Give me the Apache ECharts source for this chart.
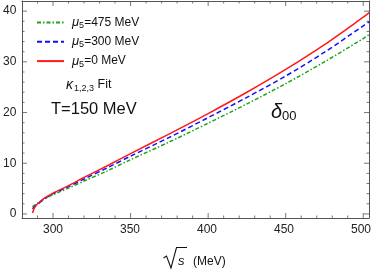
<!DOCTYPE html>
<html>
<head>
<meta charset="utf-8">
<script src="https://cdn.jsdelivr.net/npm/echarts@6/dist/echarts.min.js"></script>
<style>html,body{margin:0;padding:0;background:#fff}#c{width:374px;height:276px}</style>
</head>
<body>
<div id="c"></div>
<script>
// ---- data ----
const sqrtS = [286.8, 288, 290, 293, 296, 300, 310, 320, 335, 350, 375, 400, 425, 450, 475, 500, 503.9];
const mu475 = [1.4, 1.7, 2.1, 2.7, 3.2, 3.8, 5.1, 6.5, 8.5, 10.7, 14.2, 17.9, 21.7, 25.7, 30.0, 34.6, 35.4];
const mu300 = [1.0, 1.4, 1.9, 2.6, 3.3, 4.0, 5.4, 6.9, 9.1, 11.4, 15.1, 19.0, 23.0, 27.2, 31.9, 37.1, 37.95];
const mu0   = [0.2, 1.2, 2.0, 2.8, 3.4, 4.1, 5.6, 7.2, 9.5, 11.9, 15.8, 19.8, 24.0, 28.5, 33.4, 38.8, 39.7];
const seriesNames = ['μ5=475 MeV', 'μ5=300 MeV', 'μ5=0 MeV'];
// tick values
const xMajorTicks = [300, 350, 400, 450, 500];
const xMinorTicks = [290, 310, 320, 330, 340, 360, 370, 380, 390, 410, 420, 430, 440, 460, 470, 480, 490];
const yMajorTicks = [0, 10, 20, 30, 40];
const yMinorTicks = [2, 4, 6, 8, 12, 14, 16, 18, 22, 24, 26, 28, 32, 34, 36, 38];
const xRange = [280, 503.7];
const yRange = [-0.8, 42];

const W = 374, H = 276;
const G = { left: 22, right: 5, top: 1, bottom: 58 };
const frameColor = '#555';
const labelColor = '#222';
const font = 'Liberation Sans, Arial, sans-serif';

const gw = W - G.left - G.right, gh = H - G.top - G.bottom;
const px = v => G.left + (v - xRange[0]) / (xRange[1] - xRange[0]) * gw;
const py = v => G.top + (yRange[1] - v) / (yRange[1] - yRange[0]) * gh;

function pairs(xs, ys) { return xs.map((x, i) => [x, ys[i]]); }

const lblSt = { color: labelColor, fontSize: 12, fontFamily: font };
const frameLine = { show: true, onZero: false, lineStyle: { color: frameColor, width: 1 } };

function labelAxis(gridIndex, min, max, pos, step, margin) {
  return {
    gridIndex, type: 'value', min, max, position: pos, interval: step,
    axisLine: { show: false, onZero: false }, axisTick: { show: false },
    axisLabel: Object.assign({ show: true, margin: margin }, lblSt), splitLine: { show: false }
  };
}
function frameAxis(gridIndex, min, max, pos) {
  return {
    gridIndex, type: 'value', min, max, position: pos,
    axisLine: frameLine, axisTick: { show: false }, axisLabel: { show: false }, splitLine: { show: false }
  };
}
const hidden = gridIndex => ({ gridIndex, type: 'value', min: 0, max: 1, show: false });

// frame ticks, drawn through the main axes as small rect symbols pointing into the plot
function tickSeries(points, size, offset) {
  return {
    type: 'scatter', xAxisIndex: 0, yAxisIndex: 0, data: points,
    symbol: 'rect', symbolSize: size, symbolOffset: offset,
    itemStyle: { color: frameColor }, silent: true, clip: false, z: 5,
    emphasis: { disabled: true }, tooltip: { show: false }
  };
}
const MAJ = 5, MIN = 2.5, TW = 1;
const tickSeriesList = [
  tickSeries(xMajorTicks.map(v => [v, yRange[0]]), [TW, MAJ], [0, -MAJ / 2]),
  tickSeries(xMinorTicks.map(v => [v, yRange[0]]), [TW, MIN], [0, -MIN / 2]),
  tickSeries(xMajorTicks.map(v => [v, yRange[1]]), [TW, MAJ], [0, MAJ / 2]),
  tickSeries(xMinorTicks.map(v => [v, yRange[1]]), [TW, MIN], [0, MIN / 2]),
  tickSeries(yMajorTicks.map(v => [xRange[0], v]), [MAJ, TW], [MAJ / 2, 0]),
  tickSeries(yMinorTicks.map(v => [xRange[0], v]), [MIN, TW], [MIN / 2, 0]),
  tickSeries(yMajorTicks.map(v => [xRange[1], v]), [MAJ, TW], [-MAJ / 2, 0]),
  tickSeries(yMinorTicks.map(v => [xRange[1], v]), [MIN, TW], [-MIN / 2, 0])
];

const legendRich = {
  mu: { fontStyle: 'italic', fontSize: 13, fontFamily: font, color: '#111', padding: [0, 0, 0, 3] },
  sub: { fontSize: 9, fontFamily: font, color: '#111', padding: [6, 0, 0, 0] },
  t: { fontSize: 12, fontFamily: font, color: '#111' }
};

const chart = echarts.init(document.getElementById('c'), null, { renderer: 'canvas' });
chart.setOption({
  animation: false,
  backgroundColor: '#fff',
  grid: [
    { left: G.left, right: G.right, top: G.top, bottom: G.bottom, containLabel: false },
    { left: px(xMajorTicks[0]), right: W - px(xMajorTicks[xMajorTicks.length - 1]), top: G.top, bottom: G.bottom, containLabel: false },
    { left: G.left, right: G.right, top: py(yMajorTicks[yMajorTicks.length - 1]), bottom: H - py(yMajorTicks[0]), containLabel: false }
  ],
  xAxis: [
    frameAxis(0, xRange[0], xRange[1], 'bottom'),
    frameAxis(0, xRange[0], xRange[1], 'top'),
    labelAxis(1, xMajorTicks[0], xMajorTicks[xMajorTicks.length - 1], 'bottom', 50, 6),
    hidden(2)
  ],
  yAxis: [
    frameAxis(0, yRange[0], yRange[1], 'left'),
    frameAxis(0, yRange[0], yRange[1], 'right'),
    hidden(1),
    labelAxis(2, yMajorTicks[0], yMajorTicks[yMajorTicks.length - 1], 'left', 10, 9)
  ],
  legend: {
    orient: 'vertical', left: 36, top: 16, padding: 0,
    itemWidth: 27, itemHeight: 14, itemGap: 5.3,
    data: seriesNames,
    itemStyle: { opacity: 0 },
    formatter: function (name) {
      const m = name.match(/μ5(=.*)/);
      return '{mu|μ}{sub|5}{t|' + m[1] + '}';
    },
    textStyle: { rich: legendRich }
  },
  series: [
    { name: seriesNames[0], type: 'line', xAxisIndex: 0, yAxisIndex: 0, data: pairs(sqrtS, mu475), smooth: 0.3, symbol: 'none', clip: true,
      lineStyle: { color: '#1fa31f', width: 1.5, type: [4, 2, 1.5, 2] }, itemStyle: { color: '#1fa31f' } },
    { name: seriesNames[1], type: 'line', xAxisIndex: 0, yAxisIndex: 0, data: pairs(sqrtS, mu300), smooth: 0.3, symbol: 'none', clip: true,
      lineStyle: { color: '#1010ff', width: 1.5, type: [5, 3] }, itemStyle: { color: '#1010ff' } },
    { name: seriesNames[2], type: 'line', xAxisIndex: 0, yAxisIndex: 0, data: pairs(sqrtS, mu0), smooth: 0.3, symbol: 'none', clip: true,
      lineStyle: { color: '#ff1a1a', width: 1.5, type: 'solid' }, itemStyle: { color: '#ff1a1a' } }
  ].concat(tickSeriesList),
  graphic: [
    { type: 'text', left: 66, top: 78, style: {
        text: '{k|κ}{sub|1,2,3}{t| Fit}',
        rich: {
          k: { fontStyle: 'italic', fontSize: 14, fontFamily: font, fill: '#111' },
          sub: { fontSize: 9, fontFamily: font, fill: '#111', padding: [7, 0, 0, 1] },
          t: { fontSize: 12.5, fontFamily: font, fill: '#111' }
        } } },
    { type: 'text', left: 51, top: 101, style: { text: 'T=150 MeV', fontSize: 16.5, fontFamily: font, fill: '#111' } },
    { type: 'text', left: 271, top: 102, style: {
        text: '{d|δ}{sub|00}',
        rich: {
          d: { fontStyle: 'italic', fontSize: 20, fontFamily: font, fill: '#111' },
          sub: { fontSize: 13, fontFamily: font, fill: '#111', padding: [9, 0, 0, 0] }
        } } },
    { type: 'polyline', shape: { points: [[163.5, 258], [166.5, 256], [171, 268], [176.5, 247.5], [187, 247.5]] },
      style: { stroke: '#111', lineWidth: 1.1, fill: null } },
    { type: 'text', left: 178, top: 255, style: { text: 's', fontStyle: 'italic', fontSize: 13, fontFamily: font, fill: '#111' } },
    { type: 'text', left: 193, top: 256, style: { text: '(MeV)', fontSize: 12, fontFamily: font, fill: '#111' } }
  ]
});
</script>
</body>
</html>
